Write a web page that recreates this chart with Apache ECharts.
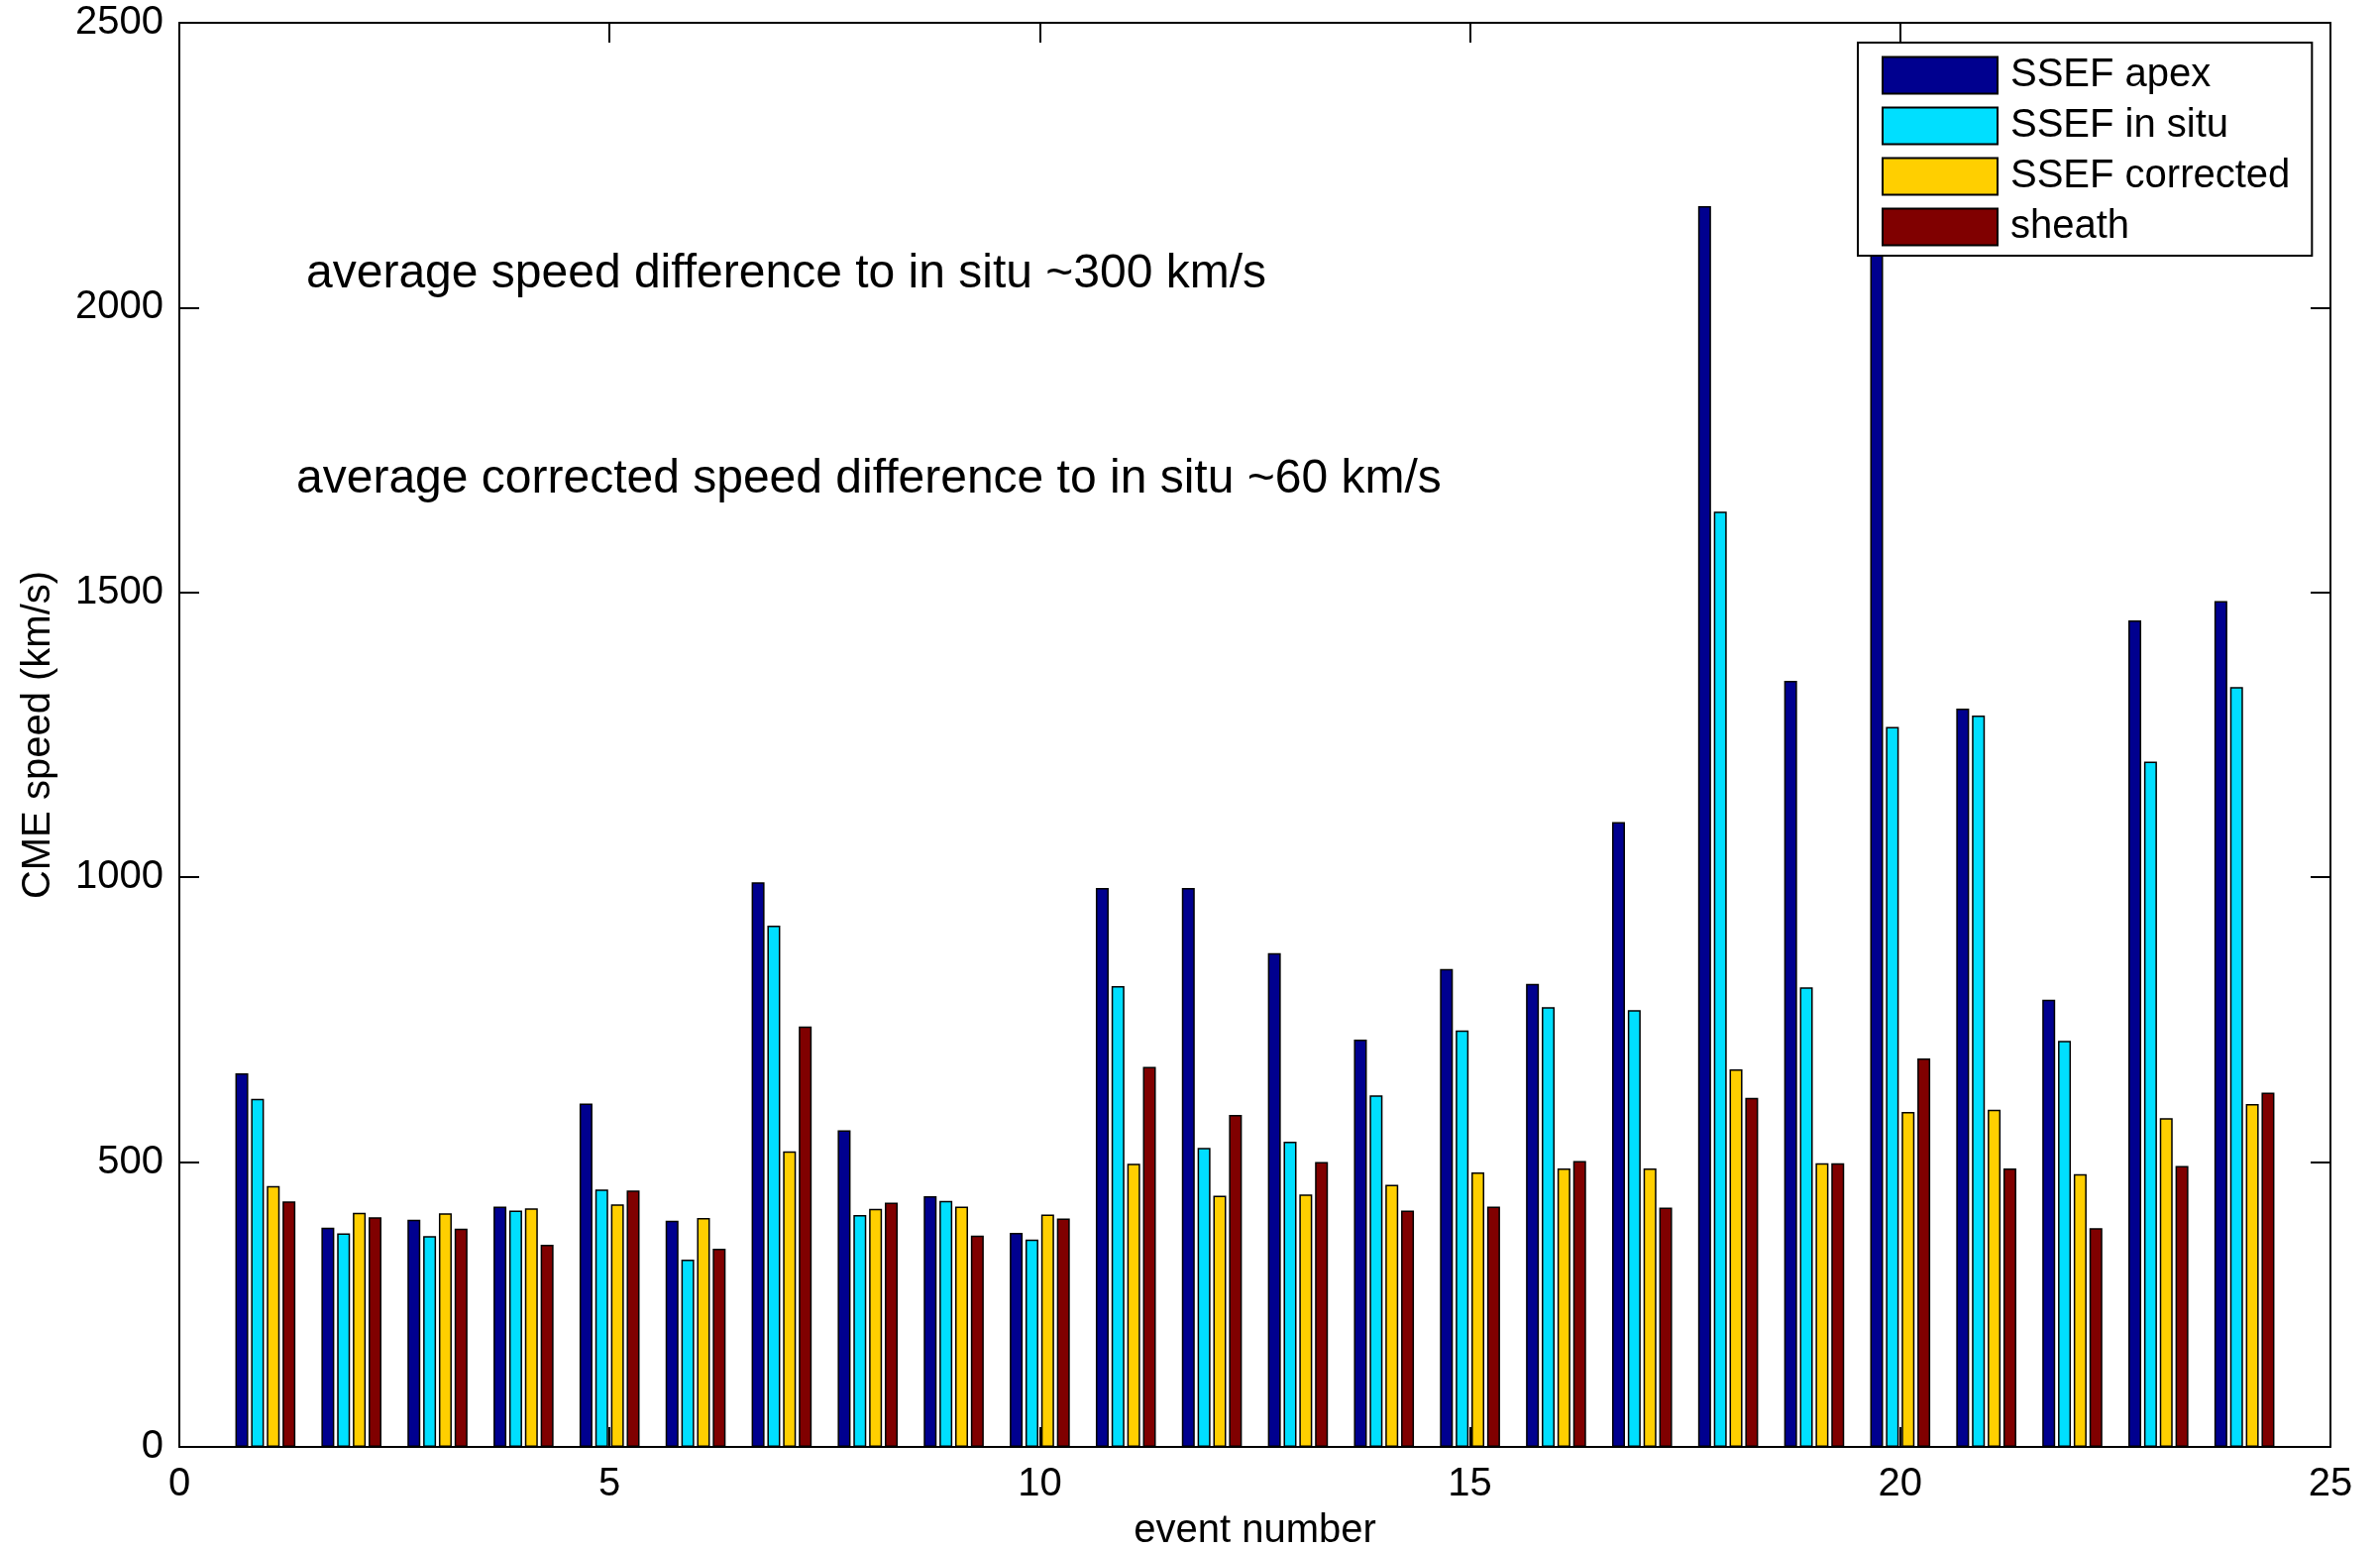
<!DOCTYPE html>
<html>
<head>
<meta charset="utf-8">
<script src="https://cdn.jsdelivr.net/npm/echarts@6/dist/echarts.min.js"></script>
<style>html,body{margin:0;padding:0;background:#fff;}#c{width:2402px;height:1564px;}</style>
</head>
<body>
<div id="c"></div>
<script>
const events = [1,2,3,4,5,6,7,8,9,10,11,12,13,14,15,16,17,18,19,20,21,22,23,24];
const ssefApex = [656,385,399,422,603,397,991,556,440,376,981,981,867,715,839,813,1097,2178,1345,2250,1296,785,1451,1485];
const ssefInSitu = [611,375,370,415,452,329,915,407,432,364,809,525,536,617,731,772,767,1642,807,1264,1284,713,1203,1334];
const ssefCorrected = [458,411,410,419,426,402,519,418,422,408,497,441,443,460,482,489,489,663,498,588,592,479,577,602];
const sheath = [431,403,383,355,450,348,738,429,371,401,667,583,500,415,422,502,420,613,498,682,489,384,493,622];
const seriesNames = ['SSEF apex','SSEF in situ','SSEF corrected','sheath'];
const seriesColors = ['#00008F','#00DFFF','#FFCF00','#800000'];
const yTicks = [0,500,1000,1500,2000,2500];
const xTicks = [0,5,10,15,20,25];
const notes = ['average speed difference to in situ ~300 km/s','average corrected speed difference to in situ ~60 km/s'];

const allValues = [ssefApex, ssefInSitu, ssefCorrected, sheath];
const FONT = 'Liberation Sans, Arial, Helvetica, sans-serif';
const chart = echarts.init(document.getElementById('c'), null, {renderer:'canvas'});

const series = allValues.map((vals, i) => ({
  name: seriesNames[i],
  type: 'bar',
  xAxisIndex: 0, yAxisIndex: 0,
  data: events.map((e, j) => [e, vals[j]]),
  barWidth: 13,
  barGap: '22%',
  itemStyle: {color: seriesColors[i], borderColor: '#000', borderWidth: 1.5},
  emphasis: {disabled: true},
  animation: false
}));

const axisCommon = {
  axisLine: {show: true, onZero: false, lineStyle: {color: '#000', width: 2}},
  axisTick: {show: true, inside: true, length: 20, lineStyle: {color: '#000', width: 2}},
  splitLine: {show: false}
};

chart.setOption({
  animation: false,
  backgroundColor: '#fff',
  grid: {left: 181, right: 50, top: 23, bottom: 104, containLabel: false, outerBoundsMode: 'none'},
  xAxis: [
    Object.assign({}, axisCommon, {
      type: 'value', position: 'bottom', min: xTicks[0], max: xTicks[xTicks.length-1], interval: 5,
      name: 'event number', nameLocation: 'middle', nameGap: 65,
      nameTextStyle: {fontFamily: FONT, fontSize: 40, color: '#000'},
      axisLabel: {show: true, margin: 18, fontFamily: FONT, fontSize: 40, color: '#000',
        formatter: v => xTicks.indexOf(v) >= 0 ? String(v) : ''}
    }),
    Object.assign({}, axisCommon, {
      type: 'value', position: 'top', min: xTicks[0], max: xTicks[xTicks.length-1], interval: 5,
      axisLabel: {show: false}
    })
  ],
  yAxis: [
    Object.assign({}, axisCommon, {
      type: 'value', position: 'left', min: yTicks[0], max: yTicks[yTicks.length-1], interval: 500,
      name: 'CME speed (km/s)', nameLocation: 'middle', nameGap: 122, nameRotate: 90,
      nameTextStyle: {fontFamily: FONT, fontSize: 40, color: '#000'},
      axisLabel: {show: true, margin: 16, fontFamily: FONT, fontSize: 40, color: '#000',
        formatter: v => yTicks.indexOf(v) >= 0 ? String(v) : ''}
    }),
    Object.assign({}, axisCommon, {
      type: 'value', position: 'right', min: yTicks[0], max: yTicks[yTicks.length-1], interval: 500,
      axisLabel: {show: false}
    })
  ],
  legend: {
    show: true,
    orient: 'vertical',
    left: 1875, top: 43,
    padding: [13, 22, 9, 24],
    itemWidth: 116, itemHeight: 37, itemGap: 11,
    backgroundColor: '#fff',
    borderColor: '#000', borderWidth: 2,
    icon: 'rect',
    selectedMode: false,
    textStyle: {fontFamily: FONT, fontSize: 40, color: '#000', padding: [0,0,0,8]},
    data: seriesNames
  },
  graphic: [
    {type: 'text', left: 309, top: 253, style: {text: notes[0], font: '48px ' + FONT, fill: '#000'}, z: 10},
    {type: 'text', left: 299, top: 460, style: {text: notes[1], font: '48px ' + FONT, fill: '#000'}, z: 10}
  ],
  series: series
});
</script>
</body>
</html>
